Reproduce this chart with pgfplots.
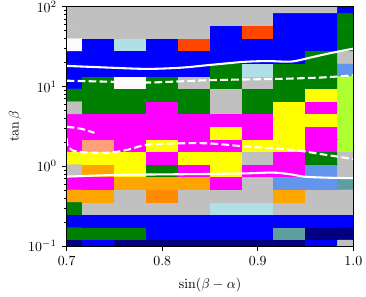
\documentclass[border=0pt]{standalone}
\usepackage{pgfplots}
\pgfplotsset{compat=1.18}
\pgfplotsset{colormap={cat}{rgb255=(192,192,192) rgb255=(0,0,255) rgb255=(0,128,0) rgb255=(255,0,255) rgb255=(255,255,0) rgb255=(255,69,0) rgb255=(176,224,230) rgb255=(255,250,250) rgb255=(100,149,237) rgb255=(173,255,47) rgb255=(255,160,122) rgb255=(255,165,0) rgb255=(255,140,0) rgb255=(95,158,160) rgb255=(0,0,128)}}
\begin{document}
\begin{tikzpicture}
\begin{axis}[
  scale only axis, width=206.4pt, height=172.3pt,
  xmin=0.7, xmax=1.0, ymin=0.1, ymax=100, ymode=log,
  enlargelimits=false,
  xtick={0.7,0.8,0.9,1.0}, xticklabels={0.7,0.8,0.9,1.0},
  ytick={0.1,1,10,100},
  tick align=outside, tick pos=left,
  major tick length=3.5pt, minor tick length=2pt,
  every tick/.style={black, line width=0.5pt},
  axis line style={line width=0.6pt},
  xlabel={$\sin(\beta-\alpha)$}, ylabel={$\tan\beta$},
  every axis x label/.style={at={(axis description cs:0.5,-0.163)}, anchor=center},
  every axis y label/.style={at={(axis description cs:-0.180,0.5)}, anchor=center, rotate=90},
  axis on top,
  colormap name=cat,
]
\addplot[matrix plot*, mesh/cols=10, mesh/rows=20, point meta=explicit, colormap access=direct, shader=flat corner]
table[x=x, y=y, meta=c, row sep=\\] {
x y c\\
0.7 0.1 14\\ 0.73333 0.1 1\\ 0.76667 0.1 14\\ 0.8 0.1 14\\ 0.83333 0.1 14\\ 0.86667 0.1 14\\ 0.9 0.1 14\\ 0.93333 0.1 14\\ 0.96667 0.1 1\\ 1.0 0.1 0\\
0.7 0.14384 2\\ 0.73333 0.14384 2\\ 0.76667 0.14384 2\\ 0.8 0.14384 1\\ 0.83333 0.14384 1\\ 0.86667 0.14384 1\\ 0.9 0.14384 1\\ 0.93333 0.14384 13\\ 0.96667 0.14384 14\\ 1.0 0.14384 14\\
0.7 0.20691 1\\ 0.73333 0.20691 1\\ 0.76667 0.20691 1\\ 0.8 0.20691 1\\ 0.83333 0.20691 1\\ 0.86667 0.20691 1\\ 0.9 0.20691 1\\ 0.93333 0.20691 1\\ 0.96667 0.20691 1\\ 1.0 0.20691 1\\
0.7 0.29764 2\\ 0.73333 0.29764 0\\ 0.76667 0.29764 0\\ 0.8 0.29764 0\\ 0.83333 0.29764 0\\ 0.86667 0.29764 6\\ 0.9 0.29764 6\\ 0.93333 0.29764 0\\ 0.96667 0.29764 0\\ 1.0 0.29764 0\\
0.7 0.42813 11\\ 0.73333 0.42813 11\\ 0.76667 0.42813 0\\ 0.8 0.42813 12\\ 0.83333 0.42813 0\\ 0.86667 0.42813 0\\ 0.9 0.42813 0\\ 0.93333 0.42813 11\\ 0.96667 0.42813 0\\ 1.0 0.42813 0\\
0.7 0.61585 3\\ 0.73333 0.61585 3\\ 0.76667 0.61585 11\\ 0.8 0.61585 11\\ 0.83333 0.61585 11\\ 0.86667 0.61585 3\\ 0.9 0.61585 0\\ 0.93333 0.61585 8\\ 0.96667 0.61585 8\\ 1.0 0.61585 13\\
0.7 0.88587 0\\ 0.73333 0.88587 11\\ 0.76667 0.88587 4\\ 0.8 0.88587 2\\ 0.83333 0.88587 3\\ 0.86667 0.88587 4\\ 0.9 0.88587 3\\ 0.93333 0.88587 3\\ 0.96667 0.88587 8\\ 1.0 0.88587 0\\
0.7 1.27427 4\\ 0.73333 1.27427 4\\ 0.76667 1.27427 4\\ 0.8 1.27427 3\\ 0.83333 1.27427 4\\ 0.86667 1.27427 4\\ 0.9 1.27427 0\\ 0.93333 1.27427 3\\ 0.96667 1.27427 2\\ 1.0 1.27427 0\\
0.7 1.83298 3\\ 0.73333 1.83298 10\\ 0.76667 1.83298 3\\ 0.8 1.83298 4\\ 0.83333 1.83298 3\\ 0.86667 1.83298 3\\ 0.9 1.83298 4\\ 0.93333 1.83298 4\\ 0.96667 1.83298 3\\ 1.0 1.83298 9\\
0.7 2.63665 3\\ 0.73333 2.63665 3\\ 0.76667 2.63665 3\\ 0.8 2.63665 3\\ 0.83333 2.63665 3\\ 0.86667 2.63665 4\\ 0.9 2.63665 3\\ 0.93333 2.63665 4\\ 0.96667 2.63665 3\\ 1.0 2.63665 9\\
0.7 3.79269 3\\ 0.73333 3.79269 3\\ 0.76667 3.79269 3\\ 0.8 3.79269 3\\ 0.83333 3.79269 3\\ 0.86667 3.79269 3\\ 0.9 3.79269 3\\ 0.93333 3.79269 4\\ 0.96667 3.79269 4\\ 1.0 3.79269 9\\
0.7 5.45559 0\\ 0.73333 5.45559 2\\ 0.76667 5.45559 2\\ 0.8 5.45559 3\\ 0.83333 5.45559 2\\ 0.86667 5.45559 0\\ 0.9 5.45559 2\\ 0.93333 5.45559 4\\ 0.96667 5.45559 3\\ 1.0 5.45559 9\\
0.7 7.84760 2\\ 0.73333 7.84760 2\\ 0.76667 7.84760 2\\ 0.8 7.84760 2\\ 0.83333 7.84760 2\\ 0.86667 7.84760 0\\ 0.9 7.84760 2\\ 0.93333 7.84760 2\\ 0.96667 7.84760 4\\ 1.0 7.84760 9\\
0.7 11.28838 1\\ 0.73333 11.28838 2\\ 0.76667 11.28838 7\\ 0.8 11.28838 2\\ 0.83333 11.28838 0\\ 0.86667 11.28838 2\\ 0.9 11.28838 0\\ 0.93333 11.28838 2\\ 0.96667 11.28838 2\\ 1.0 11.28838 9\\
0.7 16.23777 1\\ 0.73333 16.23777 1\\ 0.76667 16.23777 1\\ 0.8 16.23777 1\\ 0.83333 16.23777 1\\ 0.86667 16.23777 2\\ 0.9 16.23777 6\\ 0.93333 16.23777 2\\ 0.96667 16.23777 2\\ 1.0 16.23777 8\\
0.7 23.35721 1\\ 0.73333 23.35721 1\\ 0.76667 23.35721 1\\ 0.8 23.35721 1\\ 0.83333 23.35721 1\\ 0.86667 23.35721 1\\ 0.9 23.35721 1\\ 0.93333 23.35721 1\\ 0.96667 23.35721 2\\ 1.0 23.35721 0\\
0.7 33.59818 7\\ 0.73333 33.59818 1\\ 0.76667 33.59818 6\\ 0.8 33.59818 1\\ 0.83333 33.59818 5\\ 0.86667 33.59818 1\\ 0.9 33.59818 1\\ 0.93333 33.59818 1\\ 0.96667 33.59818 1\\ 1.0 33.59818 2\\
0.7 48.32930 0\\ 0.73333 48.32930 0\\ 0.76667 48.32930 0\\ 0.8 48.32930 0\\ 0.83333 48.32930 0\\ 0.86667 48.32930 1\\ 0.9 48.32930 5\\ 0.93333 48.32930 1\\ 0.96667 48.32930 1\\ 1.0 48.32930 2\\
0.7 69.51928 0\\ 0.73333 69.51928 0\\ 0.76667 69.51928 0\\ 0.8 69.51928 0\\ 0.83333 69.51928 0\\ 0.86667 69.51928 0\\ 0.9 69.51928 0\\ 0.93333 69.51928 1\\ 0.96667 69.51928 1\\ 1.0 69.51928 2\\
0.7 100 0\\ 0.73333 100 0\\ 0.76667 100 0\\ 0.8 100 0\\ 0.83333 100 0\\ 0.86667 100 0\\ 0.9 100 0\\ 0.93333 100 0\\ 0.96667 100 0\\ 1.0 100 1\\
};
% upper solid
\addplot[white, line width=1.5pt, smooth] coordinates {
(0.70,18.1) (0.74,17.3) (0.784,16.6) (0.82,17.2) (0.85,18.6) (0.885,20.3) (0.91,20.8) (0.935,20.5) (0.955,23.0) (0.975,26.0) (1.0,29.8)};
% upper dashed
\addplot[white, line width=1.5pt, smooth, dash pattern=on 5.5pt off 2.4pt] coordinates {
(0.70,11.8) (0.74,11.5) (0.784,11.2) (0.82,11.6) (0.85,12.0) (0.90,12.3) (0.93,12.5) (0.97,13.0) (1.0,13.8)};
% lower dashed, left hook
\addplot[white, line width=1.5pt, smooth, dash pattern=on 5.5pt off 2.4pt] coordinates {
(0.70,3.12) (0.715,2.95) (0.729,2.62)};
% lower dashed, main
\addplot[white, line width=1.5pt, smooth, dash pattern=on 5.5pt off 2.4pt] coordinates {
(0.70,2.25) (0.7008,1.85) (0.706,1.58) (0.72,1.49) (0.745,1.48) (0.765,1.62) (0.784,1.86) (0.82,1.94) (0.85,1.93) (0.885,1.78) (0.937,1.60) (0.958,1.47) (1.0,1.23)};
% lower solid
\addplot[white, line width=1.5pt, smooth] coordinates {
(0.70,0.741) (0.752,0.778) (0.80,0.79) (0.85,0.80) (0.89,0.815) (0.916,0.832) (0.935,0.79) (0.948,0.741) (0.97,0.72) (1.0,0.708)};
\end{axis}
\pgfresetboundingbox
\path[use as bounding box] ([shift={(-48.0pt,-36.0pt)}]current axis.south west) rectangle ([shift={(9.1pt,4.8pt)}]current axis.north east);
\end{tikzpicture}
\end{document}
